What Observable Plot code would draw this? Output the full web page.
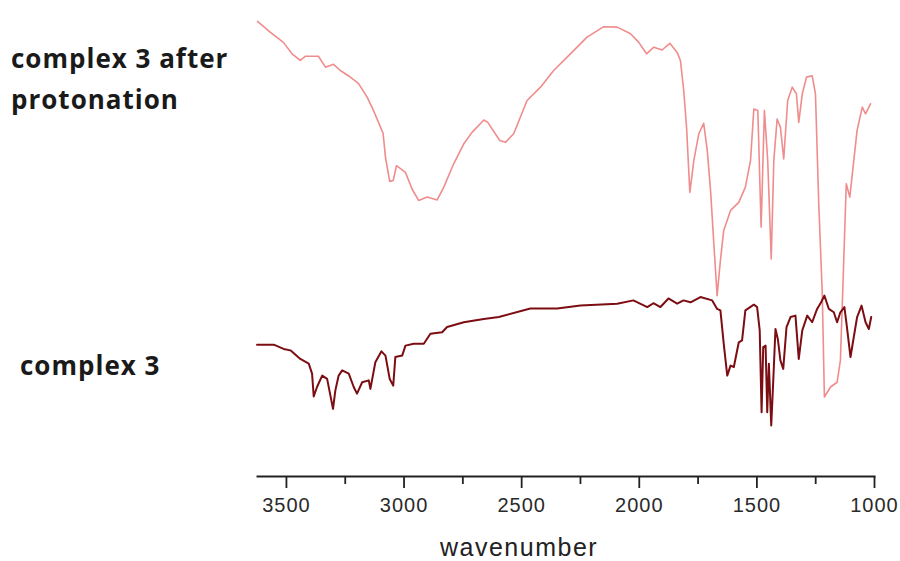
<!DOCTYPE html>
<html><head><meta charset="utf-8">
<script src="https://cdn.jsdelivr.net/npm/d3@7"></script>
<script src="https://cdn.jsdelivr.net/npm/@observablehq/plot@0.6"></script>
<style>
body{margin:0;background:#fff;}
#wrap{position:relative;width:900px;height:561px;}
.lab{position:absolute;font-family:"Open Sans",sans-serif;font-weight:700;font-size:26px;letter-spacing:1px;color:#1a1a1a;line-height:41px;white-space:nowrap;}
#xl{position:absolute;font-family:"Liberation Sans",Arial,sans-serif;font-size:25px;line-height:25px;letter-spacing:1.5px;color:#222;white-space:nowrap;}
</style></head><body>
<div id="wrap"></div>
<script>
const seriesNames = ["complex 3 after protonation", "complex 3"];
const xTicks = [3500, 3000, 2500, 2000, 1500, 1000];
const xMinorTicks = [3250, 2750, 2250, 1750, 1250];
const xLabel = "wavenumber";

// wavenumber (cm-1), transmittance (arb. %)
const protWn = [3623,3568,3513,3476,3441,3419,3364,3334,3300,3271,3237,3194,3157,3130,3100,3089,3079,3061,3046,3032,2994,2966,2938,2902,2859,2831,2789,2746,2711,2661,2644,2593,2569,2534,2477,2420,2364,2293,2222,2151,2094,2037,2002,1969,1938,1903,1870,1839,1825,1811,1799,1785,1768,1747,1726,1711,1697,1683,1669,1655,1641,1612,1577,1549,1527,1513,1496,1482,1468,1454,1439,1428,1414,1400,1386,1369,1350,1332,1322,1307,1289,1265,1251,1237,1222,1213,1187,1159,1145,1133,1120,1105,1088,1074,1052,1038,1017];
const protT = [95.6,93.3,91.2,88.8,87.4,88.3,88.3,86.0,86.6,85.3,84.2,82.6,79.7,76.9,73.4,72.1,67.1,62.0,62.2,65.3,63.9,60.4,58.0,58.7,58.1,60.8,65.7,69.9,72.3,74.9,74.4,70.6,70.2,72.0,79.0,81.8,85.3,88.8,92.3,94.5,94.4,93.0,91.2,88.8,90.2,89.6,91.0,89.1,87.4,81.1,73.4,59.7,66.4,72.0,74.2,68.5,60.1,48.9,38.0,45.4,51.7,55.9,57.6,60.8,66.4,77.2,76.9,52.4,76.9,66.4,45.7,66.4,75.1,73.4,66.7,79.0,81.8,80.4,74.4,80.4,83.9,84.2,80.4,57.4,38.4,16.7,18.8,19.8,24.4,41.9,61.5,58.7,66.4,72.7,77.6,76.2,78.3];

const baseWn = [3625,3554,3512,3483,3441,3405,3391,3384,3370,3348,3327,3313,3302,3292,3278,3263,3235,3214,3200,3178,3150,3143,3122,3096,3079,3061,3046,3037,3008,2994,2959,2916,2888,2838,2817,2746,2661,2597,2463,2349,2250,2094,2025,1966,1940,1910,1876,1839,1812,1782,1740,1690,1669,1655,1641,1626,1612,1598,1577,1563,1549,1513,1499,1488,1480,1473,1463,1456,1449,1439,1431,1421,1411,1400,1388,1374,1357,1336,1322,1307,1286,1265,1244,1227,1213,1194,1173,1159,1145,1128,1119,1102,1088,1074,1055,1038,1024,1014];
const baseT = [27.7,27.7,26.8,26.5,24.7,23.7,21.6,16.8,18.8,21.2,20.5,17.0,14.2,18.1,21.2,22.3,21.6,18.8,17.4,19.8,20.2,18.4,24.0,26.3,25.4,20.5,19.1,25.1,25.4,27.5,27.9,27.9,30.0,30.3,31.4,32.4,33.1,33.5,35.3,35.3,35.9,36.3,37.0,35.6,36.4,35.6,37.4,36.3,37.0,36.6,37.7,37.0,35.2,34.9,27.9,21.2,23.3,23.0,28.2,28.6,34.9,36.1,35.6,30.7,13.5,27.2,27.5,13.5,23.7,10.7,19.5,31.0,28.9,24.4,22.6,31.4,33.5,33.8,24.7,30.7,33.8,32.4,35.2,36.6,38.0,35.2,34.5,32.4,34.5,35.6,32.1,25.1,29.3,33.5,35.9,32.4,31.0,33.5];

const prot = protWn.map((w,i)=>({wn:w, t:protT[i]}));
const base = baseWn.map((w,i)=>({wn:w, t:baseT[i]}));

const chart = Plot.plot({
  width: 900, height: 561,
  marginLeft: 257, marginRight: 26, marginTop: 0, marginBottom: 85,
  style: {fontFamily: "'Liberation Sans', Arial, sans-serif", background: "#fff", letterSpacing: "1px"},
  x: {domain: [3623, 1000], label: null},
  y: {domain: [0, 100], axis: null},
  marks: [
    Plot.axisX(xTicks, {tickSize: 12, tickPadding: 9, fontSize: 20, stroke: "#222", strokeWidth: 1.8, fill: "#2a2a2a", tickFormat: d => String(d), label: null}),
    Plot.tickX(xMinorTicks, {x: d=>d, y: null, insetTop: 476, insetBottom: -8, stroke: "#222", strokeWidth: 1.8}),
    Plot.frame({anchor: "bottom", stroke: "#222", strokeWidth: 2}),
    Plot.line(prot, {x: "wn", y: "t", stroke: "#f08c8c", strokeWidth: 1.6}),
    Plot.line(base, {x: "wn", y: "t", stroke: "#7c0d12", strokeWidth: 2})
  ]
});
const wrap = document.getElementById("wrap");
wrap.appendChild(chart);
const l1 = document.createElement("div"); l1.className="lab";
l1.style.left="11px"; l1.style.top="38px"; l1.innerHTML="complex 3 after<br>protonation";
wrap.appendChild(l1);
const l2 = document.createElement("div"); l2.className="lab";
l2.style.left="20px"; l2.style.top="345px"; l2.textContent=seriesNames[1];
wrap.appendChild(l2);
const xl = document.createElement("div"); xl.id="xl";
xl.style.left="440px"; xl.style.top="535px"; xl.textContent=xLabel;
wrap.appendChild(xl);
</script>
</body></html>
